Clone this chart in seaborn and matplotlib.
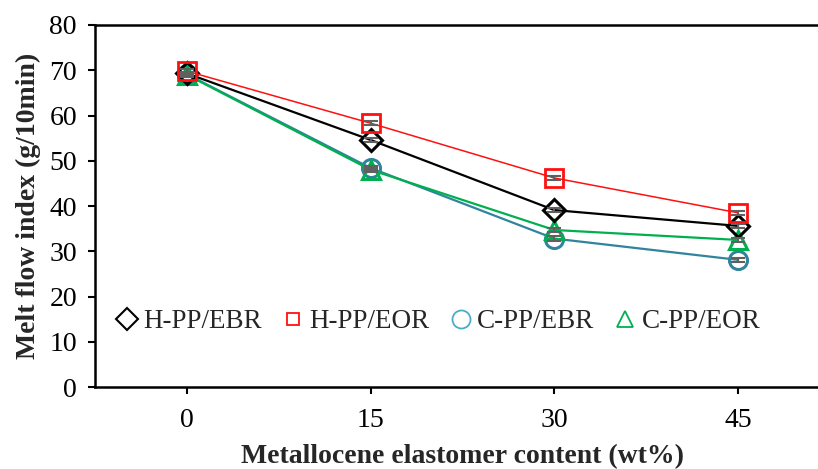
import matplotlib
matplotlib.use("Agg")
import matplotlib.pyplot as plt
from matplotlib.lines import Line2D
import seaborn as sns
import pandas as pd
import numpy as np

contents = ["0", "15", "30", "45"]
h_pp_ebr = [69.3, 54.6, 39.1, 35.6]
h_pp_eor = [69.8, 58.3, 46.2, 38.5]
c_pp_ebr = [69.1, 48.4, 32.8, 28.1]
c_pp_eor = [69.0, 48.0, 34.7, 32.5]
err = [0.4, 0.5, 0.5, 0.4]
series_names = ["H-PP/EBR", "H-PP/EOR", "C-PP/EBR", "C-PP/EOR"]

sns.set_theme(style="white")
plt.rcParams['font.family'] = ['Liberation Serif', 'DejaVu Serif']

fig = plt.figure(figsize=(8.18, 4.69), dpi=100)
ax = fig.add_axes([0.1161, 0.1748, 0.8985, 0.7719])

styles = {
    "H-PP/EBR": dict(color="black", marker="D", ms=11, lw=1.6, mew=2.2),
    "H-PP/EOR": dict(color="#FF1010", marker="s", ms=13, lw=1.1, mew=2.0),
    "C-PP/EBR": dict(color="#31849B", marker="o", ms=13, lw=1.6, mew=2.2),
    "C-PP/EOR": dict(color="#00B050", marker="^", ms=13, lw=1.6, mew=2.2),
}
data = {"H-PP/EBR": h_pp_ebr, "H-PP/EOR": h_pp_eor,
        "C-PP/EBR": c_pp_ebr, "C-PP/EOR": c_pp_eor}

xpos = np.arange(len(contents))
order = ["C-PP/EBR", "C-PP/EOR", "H-PP/EBR", "H-PP/EOR"]
for name in order:
    st = styles[name]
    df = pd.DataFrame({"x": xpos, "y": data[name]})
    sns.lineplot(data=df, x="x", y="y", ax=ax, color=st["color"], lw=st["lw"],
                 marker=st["marker"], markersize=st["ms"], markerfacecolor="none",
                 markeredgecolor=st["color"], markeredgewidth=st["mew"], legend=False)
    ax.errorbar(xpos, data[name], yerr=err, fmt="none", ecolor="#606060",
                elinewidth=1.5, capsize=5, capthick=1.5, zorder=5)

ax.set_xlim(-0.5, 3.5)
ax.set_ylim(0, 80)
ax.set_xticks(xpos)
ax.set_xticklabels(contents)
ax.set_yticks(np.arange(0, 81, 10))
ax.tick_params(axis="both", labelsize=20, colors="black", direction="out",
               length=5, width=1.5, left=True, bottom=True)
ax.tick_params(axis="x", pad=10)
ax.tick_params(axis="y", pad=8)
ax.set_xlabel("Metallocene elastomer content (wt%)", fontsize=20, fontweight="bold", labelpad=8)
ax.set_ylabel("Melt flow index (g/10min)", fontsize=20, fontweight="bold", labelpad=6)

for side in ["left", "bottom", "top"]:
    ax.spines[side].set_visible(True)
    ax.spines[side].set_color("black")
    ax.spines[side].set_linewidth(1.8)
ax.spines["right"].set_visible(False)

handles = [
    Line2D([], [], ls="none", marker="D", ms=11, mfc="none", mec="black", mew=1.5),
    Line2D([], [], ls="none", marker="s", ms=8, mfc="none", mec="#FF1010", mew=1.3),
    Line2D([], [], ls="none", marker="o", ms=13, mfc="none", mec="#4BACC6", mew=1.3),
    Line2D([], [], ls="none", marker="^", ms=12, mfc="none", mec="#00B050", mew=1.3),
]
ax.legend(handles, series_names, ncol=4, frameon=False, fontsize=19.5,
          loc="center left", bbox_to_anchor=(-0.008, 0.18),
          handletextpad=0.1, columnspacing=0.65, handlelength=1.0)

fig.savefig("out.png", dpi=100)
